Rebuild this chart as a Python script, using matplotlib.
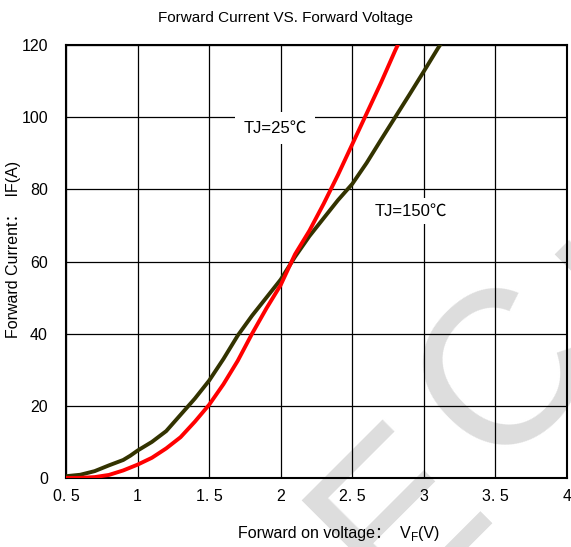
import matplotlib
matplotlib.use("Agg")
import matplotlib.pyplot as plt
import numpy as np

FONTS = ['Liberation Sans Narrow', 'Liberation Sans', 'Noto Sans CJK SC', 'DejaVu Sans']
plt.rcParams['font.family'] = FONTS

vf_25 = [0.5, 0.6, 0.7, 0.8, 0.9, 1.0, 1.1, 1.2, 1.3, 1.4, 1.5, 1.6, 1.7,
         1.8, 1.9, 2.0, 2.1, 2.2, 2.3, 2.4, 2.5, 2.6, 2.7, 2.8, 2.83]
if_25 = [0.0, 0.05, 0.25, 0.85, 2.1, 3.7, 5.6, 8.2, 11.3, 15.6, 20.3, 26.0, 32.5,
         40.0, 47.0, 53.5, 62.0, 68.5, 76.0, 84.0, 92.5, 101.0, 109.5, 118.5, 121.0]

vf_150 = [0.5, 0.6, 0.7, 0.8, 0.9, 0.95, 1.0, 1.1, 1.2, 1.3, 1.4, 1.5, 1.6, 1.7,
          1.8, 1.9, 2.0, 2.1, 2.2, 2.3, 2.4, 2.5, 2.6, 2.7, 2.8, 2.9, 3.0, 3.1, 3.13]
if_150 = [0.5, 0.9, 1.9, 3.5, 5.0, 6.2, 7.6, 10.0, 13.0, 17.5, 22.0, 27.0, 33.0, 39.5,
          45.0, 50.0, 55.0, 61.3, 67.0, 72.0, 77.0, 81.5, 87.3, 93.7, 100.0, 106.3, 112.7, 119.2, 121.0]

x_ticks = [0.5, 1.0, 1.5, 2.0, 2.5, 3.0, 3.5, 4.0]
x_labels = ['0. 5', '1', '1. 5', '2', '2. 5', '3', '3. 5', '4']
y_ticks = [0, 20, 40, 60, 80, 100, 120]

W, H = 571, 547
fig = plt.figure(figsize=(W / 100, H / 100), dpi=100)
ax = fig.add_axes([66 / W, 1 - 478 / H, 501 / W, 433 / H])
ax.set_facecolor('none')

# light grey watermark letters behind the grid (anchored at baseline centre)
for ch, (px, py) in zip('ECH', [(443, 555), (548, 416), (700, 305)]):
    fig.text(px / W, 1 - py / H, ch, fontsize=158, color='#dddddd',
             family='Liberation Sans', rotation=45, rotation_mode='anchor',
             ha='center', va='baseline', zorder=-1)

ax.plot(vf_150, if_150, color='#333300', lw=2.8, zorder=3)
ax.plot(vf_25, if_25, color='#ff0000', lw=2.8, zorder=4)

ax.set_xlim(0.5, 4)
ax.set_ylim(0, 120)
ax.set_xticks(x_ticks)
ax.set_xticklabels(x_labels)
ax.set_yticks(y_ticks)
ax.grid(True, color='black', lw=0.9)
ax.tick_params(length=0, labelsize=11.5, pad=8)
ax.tick_params(axis='y', pad=13)
for sp in ax.spines.values():
    sp.set_linewidth(1.5)
    sp.set_color('black')

ax.text(1.96, 97, 'TJ=25℃', fontsize=12, ha='center', va='center', zorder=5,
        bbox=dict(facecolor='white', edgecolor='none', pad=6))
ax.text(2.91, 74, 'TJ=150℃', fontsize=12, ha='center', va='center', zorder=5,
        bbox=dict(facecolor='white', edgecolor='none', pad=4))

fig.text(286 / W, 1 - 18 / H, 'Forward Current VS. Forward Voltage',
         fontsize=11, ha='center', va='center')
fig.text(14 / W, 1 - 249 / H, 'Forward Current：  IF(A)', fontsize=11.5,
         rotation=90, ha='center', va='center')

# x label: "V" with subscript "F"
yb = 1 - 538 / H
t1 = fig.text(238 / W, yb, 'Forward on voltage：  V', fontsize=11.5,
              ha='left', va='baseline')
t2 = ax.annotate('F', xy=(1, yb), xycoords=(t1, 'figure fraction'),
                 xytext=(0.3, -2.5), textcoords='offset points',
                 fontsize=8.5, ha='left', va='baseline')
t3 = ax.annotate('(V)', xy=(1, yb), xycoords=(t2, 'figure fraction'),
                 fontsize=11.5, ha='left', va='baseline')

fig.savefig('out.png', dpi=100)
